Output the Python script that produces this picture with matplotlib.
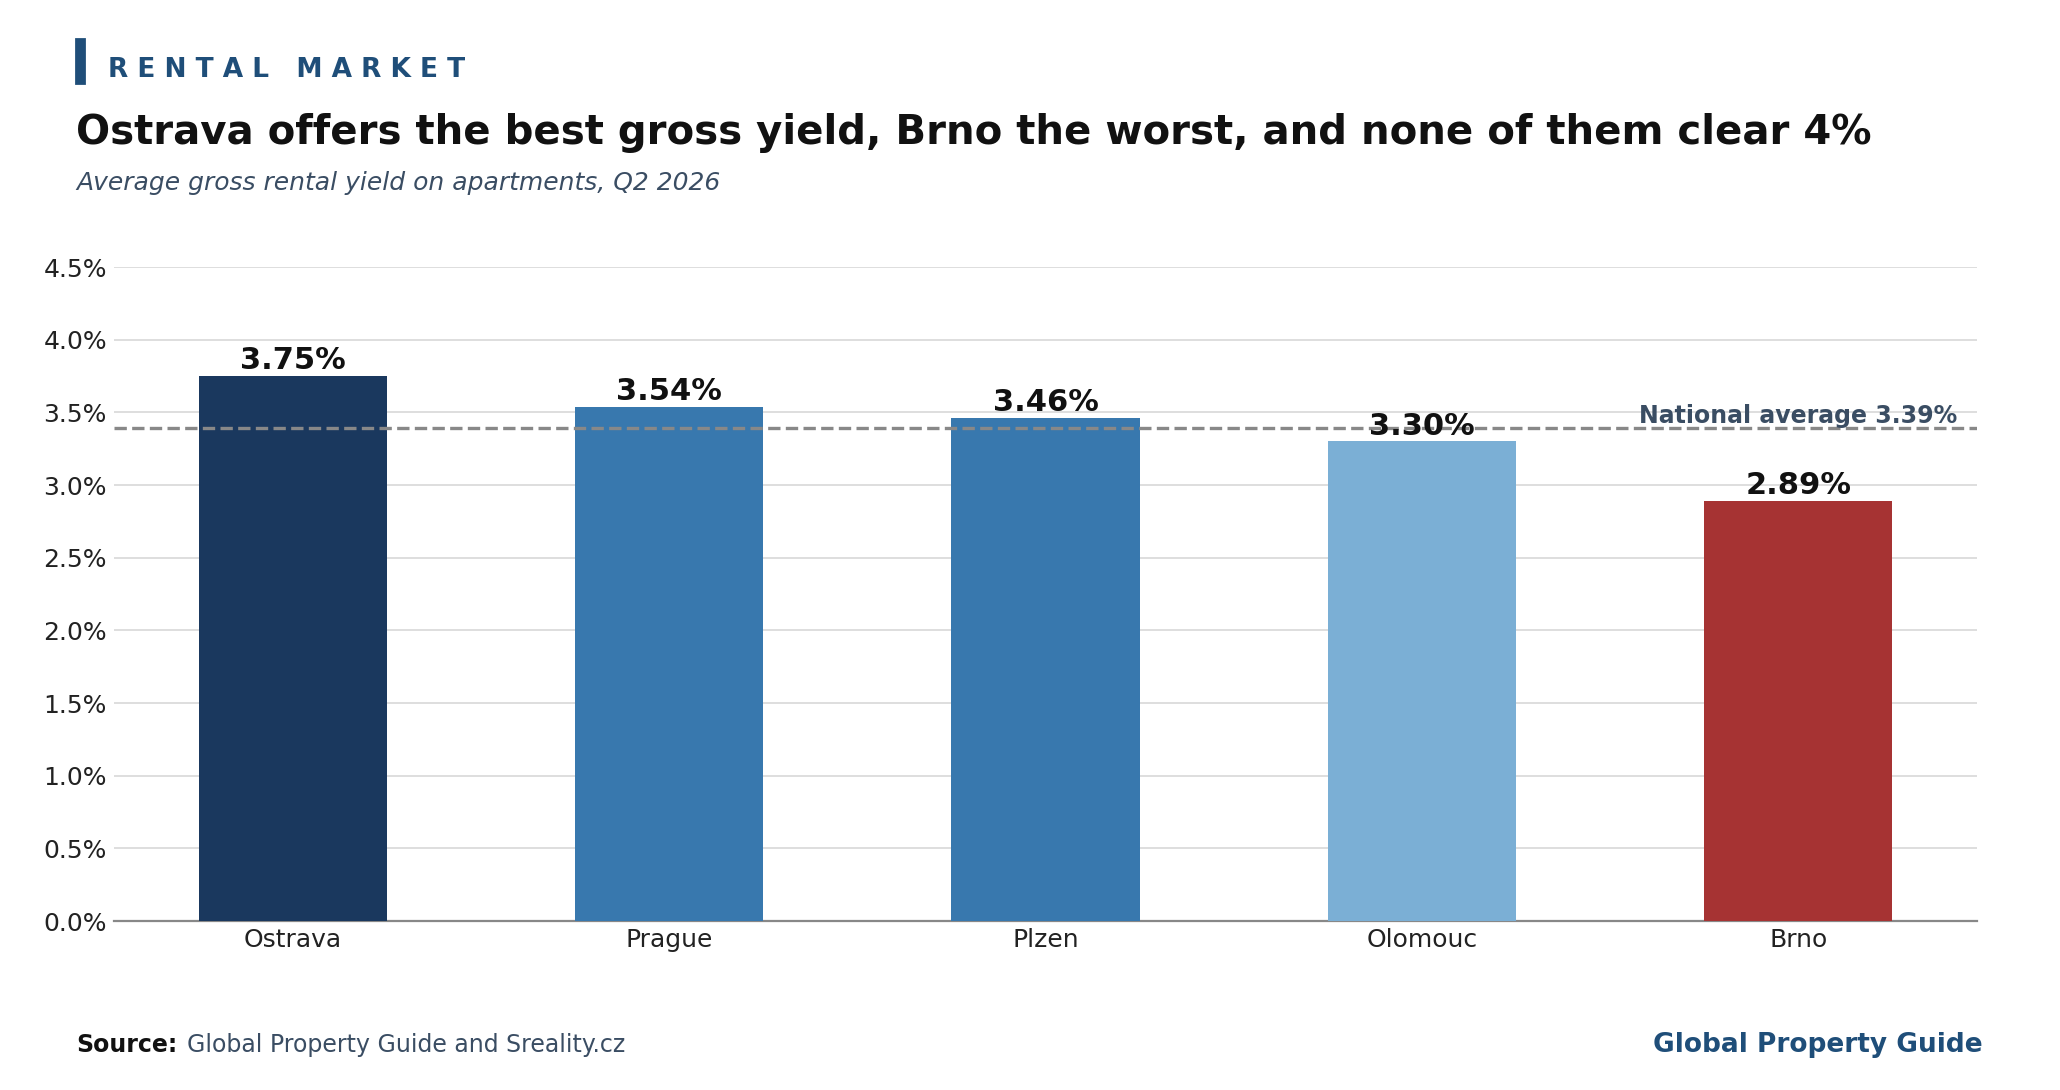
import matplotlib
matplotlib.use("Agg")
import matplotlib.pyplot as plt
from matplotlib.patches import Rectangle
from matplotlib.ticker import FuncFormatter, MultipleLocator

cities = ["Ostrava", "Prague", "Plzen", "Olomouc", "Brno"]
yields = [3.75, 3.54, 3.46, 3.30, 2.89]
bar_colors = ["#1a385e", "#3878ae", "#3878ae", "#7bafd5", "#a63333"]
national_avg = 3.39

NAVY = "#1f4e79"
SLATE = "#3a4d63"

fig = plt.figure(figsize=(10.3, 5.45), dpi=200)
ax = fig.add_axes([0.0553, 0.155, 0.9044, 0.600])

x = range(len(cities))
ax.bar(x, yields, width=0.5, color=bar_colors, zorder=3)
for xi, v in zip(x, yields):
    ax.annotate(f"{v:.2f}%", (xi, v), xytext=(0, 0.3), textcoords="offset points",
                ha="center", va="bottom", fontsize=11, fontweight="bold",
                color="#111111", zorder=5)

ax.axhline(national_avg, color="#888888", ls="--", lw=1.2, zorder=4)
ax.annotate(f"National average {national_avg:.2f}%", (1.0, national_avg),
            xycoords=("axes fraction", "data"), xytext=(-7, 1.8),
            textcoords="offset points", ha="right", va="baseline",
            fontsize=8.5, fontweight="bold", color=SLATE, zorder=6)

ax.set_ylim(0, 4.5)
ax.yaxis.set_major_locator(MultipleLocator(0.5))
ax.yaxis.set_major_formatter(FuncFormatter(lambda v, _: f"{v:.1f}%"))
ax.set_xticks(list(x))
ax.set_xticklabels(cities)
ax.tick_params(axis="both", length=0, labelsize=9, labelcolor="#222222", pad=2.5)
ax.grid(axis="y", color="#dedede", lw=0.7, zorder=0)
for s in ("top", "right", "left"):
    ax.spines[s].set_visible(False)
ax.spines["bottom"].set_color("#888888")
ax.spines["bottom"].set_linewidth(0.8)

# header
fig.patches.append(Rectangle((0.0369, 0.9240), 0.0039, 0.0398, transform=fig.transFigure,
                             color=NAVY, zorder=5))
fig.text(0.0523, 0.9297, "R E N T A L   M A R K E T", fontsize=9.5, fontweight="bold",
         color=NAVY, va="baseline", ha="left")
fig.text(0.0369, 0.8676, "Ostrava offers the best gross yield, Brno the worst, and none of them clear 4%",
         fontsize=14.5, fontweight="bold", color="#111111", va="baseline", ha="left")
fig.text(0.0369, 0.8255, "Average gross rental yield on apartments, Q2 2026",
         fontsize=9, style="italic", color=SLATE, va="baseline", ha="left")

# footer
src = fig.text(0.0369, 0.0349, "Source:", fontsize=8.5, fontweight="bold", color="#111111",
               va="baseline", ha="left")
fig.canvas.draw()
bb = src.get_window_extent().transformed(fig.transFigure.inverted())
fig.text(bb.x1 + 0.0045, 0.0349, "Global Property Guide and Sreality.cz", fontsize=8.5,
         color=SLATE, va="baseline", ha="left")
fig.text(0.9622, 0.0349, "Global Property Guide", fontsize=9.5, fontweight="bold",
         color=NAVY, va="baseline", ha="right")

fig.savefig("out.png", dpi=200)
